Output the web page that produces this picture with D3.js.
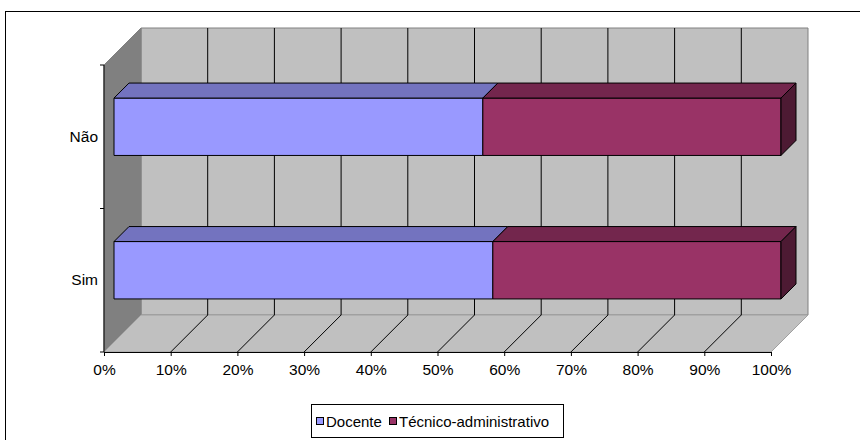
<!DOCTYPE html>
<html><head><meta charset="utf-8">
<script src="https://cdn.jsdelivr.net/npm/d3@7"></script>
<style>body{margin:0;background:#fff}svg{display:block}text{font-family:"Liberation Sans",Arial,sans-serif}</style>
</head><body><svg id="c" width="860" height="440"></svg>
<script>
const categories = ["Sim", "Não"];
const seriesNames = ["Docente", "Técnico-administrativo"];
const docente = [0.568, 0.553];
const tecnico = [0.432, 0.447];
const xTickValues = [0,0.1,0.2,0.3,0.4,0.5,0.6,0.7,0.8,0.9,1.0];

const svg = d3.select("#c");
const frontY0 = 352, frontY1 = 65;
const x = d3.scaleLinear().domain([0,1]).range([104,771]);
const y = d3.scaleBand().domain(categories).range([frontY0, frontY1]).padding(0);
const D = 37;           // wall depth
const bd0 = 10, bd1 = 25; // bar front/back depth
const P = (px,py,d)=>[px+d, py-d];
const poly = pts => pts.map(p=>p.join(",")).join(" ");

// outer border
svg.append("rect").attr("x",5.5).attr("y",11.5).attr("width",900).attr("height",500)
  .attr("fill","none").attr("stroke","#000").attr("stroke-width",1);

// walls
svg.append("polygon").attr("points",poly([P(x(0),frontY1,D),P(x(1),frontY1,D),P(x(1),frontY0,D),P(x(0),frontY0,D)]))
  .attr("fill","#c0c0c0").attr("stroke","#808080");
svg.append("polygon").attr("points",poly([[x(0),frontY1],P(x(0),frontY1,D),P(x(0),frontY0,D),[x(0),frontY0]]))
  .attr("fill","#808080").attr("stroke","#808080");
svg.append("polygon").attr("points",poly([[x(0),frontY0],P(x(0),frontY0,D),P(x(1),frontY0,D),[x(1),frontY0]]))
  .attr("fill","#c0c0c0").attr("stroke","#a0a0a0");

// gridlines
xTickValues.slice(1,-1).forEach(v=>{
  const b0 = P(x(v),frontY0,D), b1 = P(x(v),frontY1,D);
  svg.append("line").attr("x1",b0[0]).attr("y1",b0[1]).attr("x2",b1[0]).attr("y2",b1[1]).attr("stroke","#000");
  svg.append("line").attr("x1",x(v)).attr("y1",frontY0).attr("x2",b0[0]).attr("y2",b0[1]).attr("stroke","#000");
});

// axes
const ax = svg.append("g").attr("transform",`translate(0,${frontY0})`)
  .call(d3.axisBottom(x).tickValues(xTickValues).tickFormat(d3.format(".0%")).tickSize(4).tickSizeOuter(0));
ax.select(".domain").attr("stroke","#000");
ax.selectAll("text").attr("font-size",15.5).attr("fill","#000").attr("font-family","'Liberation Sans',Arial,sans-serif").attr("dy","1.0em");
svg.append("line").attr("x1",x(0)).attr("x2",x(0)).attr("y1",frontY1).attr("y2",frontY0).attr("stroke","#000");
const bounds = [frontY0, ...categories.map(c=>y(c))];
bounds.forEach(b=>svg.append("line").attr("x1",x(0)-4).attr("x2",x(0)).attr("y1",b).attr("y2",b).attr("stroke","#000"));
categories.forEach(c=>svg.append("text").attr("x",98).attr("y",y(c)+y.bandwidth()/2+5)
  .attr("text-anchor","end").attr("font-size",15.5).text(c));

// bars
const colors = [{front:"#9999ff",top:"#7373bf",side:"#4d4d80"},{front:"#993366",top:"#73264d",side:"#4d1a33"}];
categories.forEach((c,i)=>{
  const segs = [[0,docente[i]],[docente[i],docente[i]+tecnico[i]]];
  const bh = y.bandwidth()*0.4;
  const yTop = y(c)+y.bandwidth()/2 - bh/2 - bd0;
  const yBot = yTop + bh;
  const dd = bd1-bd0;
  segs.forEach((s,k)=>{
    const x0 = x(s[0])+bd0, x1 = x(s[1])+bd0;
    svg.append("polygon").attr("points",poly([[x0,yTop],[x1,yTop],[x1,yBot],[x0,yBot]]))
      .attr("fill",colors[k].front).attr("stroke","#000");
    svg.append("polygon").attr("points",poly([[x0,yTop],[x0+dd,yTop-dd],[x1+dd,yTop-dd],[x1,yTop]]))
      .attr("fill",colors[k].top).attr("stroke","#000");
    if(k===segs.length-1){
      svg.append("polygon").attr("points",poly([[x1,yTop],[x1+dd,yTop-dd],[x1+dd,yBot-dd],[x1,yBot]]))
        .attr("fill",colors[k].side).attr("stroke","#000");
    }
  });
});

// legend
const lg = svg.append("g");
lg.append("rect").attr("x",311.5).attr("y",404.5).attr("width",252).attr("height",33)
  .attr("fill","#fff").attr("stroke","#000");
const lx = [316.5, 389.5];
seriesNames.forEach((n,k)=>{
  lg.append("rect").attr("x",lx[k]).attr("y",417.5).attr("width",7).attr("height",7)
    .attr("fill",colors[k].front).attr("stroke","#000");
  lg.append("text").attr("x",lx[k]+9.5).attr("y",427).attr("font-size",15).text(n);
});
</script></body></html>
